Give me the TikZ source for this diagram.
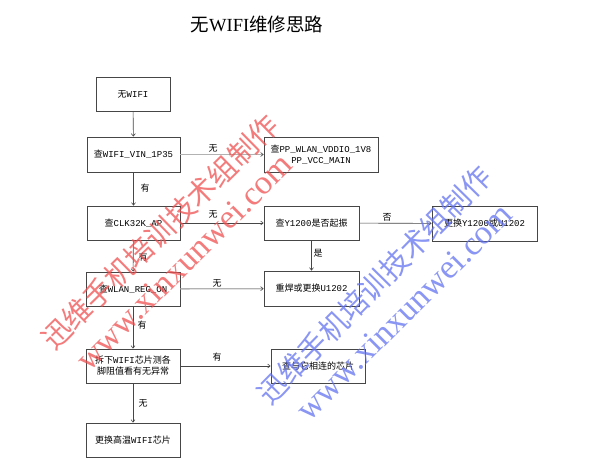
\documentclass[tikz,border=0pt]{standalone}
\usepackage{fontspec}
\setmainfont{Liberation Mono}
\newfontfamily\zh{Noto Sans CJK SC}
\newfontfamily\wmser{Liberation Serif}
\usetikzlibrary{arrows.meta}
\definecolor{wmred}{RGB}{240,80,80}
\definecolor{wmblue}{RGB}{100,115,240}
\definecolor{frame}{RGB}{70,70,70}
\begin{document}
\begin{tikzpicture}[x=1pt,y=-1pt,
  box/.style={draw=frame,line width=0.8pt,minimum width=#1,inner sep=0pt,align=center,font=\fontsize{9}{11}\selectfont},
  box/.default=94pt,
  arr/.style={draw=frame,line width=0.6pt,-{Straight Barb[length=2.5pt,width=4pt]}},
  garr/.style={draw=gray!60,line width=1.3pt,-{Straight Barb[length=2.5pt,width=4pt,color=frame,line width=0.6pt]}},
  lab/.style={font=\zh\fontsize{9}{11}\selectfont,inner sep=0pt},
  wmz/.style={font=\zh\fontsize{29}{30}\selectfont,inner sep=0pt,opacity=0.75},
  wmw/.style={font=\wmser\fontsize{34}{36}\selectfont,inner sep=0pt,opacity=0.75}]
\useasboundingbox (0,0) rectangle (596,472);
\fill[white] (0,0) rectangle (596,472);
\node[inner sep=0pt,font=\fontsize{18.5}{20}\selectfont] (title) at (257,24) {{\zh 无}{\wmser WIFI}{\zh 维修思路}};
\node[box=74pt,minimum height=34pt] (n1) at (133,94) {{\zh 无}WIFI};
\node[box=93pt,minimum height=35pt] (n2) at (133.5,154.5) {{\zh 查}WIFI\_VIN\_1P35};
\node[box=114pt,minimum height=35pt] (n3) at (321,154.5) {{\zh 查}PP\_WLAN\_VDDIO\_1V8\\PP\_VCC\_MAIN};
\node[box=93pt,minimum height=34pt] (n4) at (133.5,223) {{\zh 查}CLK32K\_AP};
\node[box=95pt,minimum height=34pt] (n5) at (311.5,223) {{\zh 查}Y1200{\zh 是否起振}};
\node[box=105pt,minimum height=35pt] (n6) at (484.5,223.5) {{\zh 更换}Y1200{\zh 或}U1202};
\node[box=94pt,minimum height=34pt] (n7) at (133,289) {{\zh 查}WLAN\_REG\_ON};
\node[box=95pt,minimum height=35pt] (n8) at (311.5,288.5) {{\zh 重焊或更换}U1202};
\node[box=94pt,minimum height=34pt] (n9) at (133,366) {{\zh 拆下}WIFI{\zh 芯片测各}\\{\zh 脚阻值看有无异常}};
\node[box=94pt,minimum height=34pt] (n10) at (318,366) {{\zh 查与它相连的芯片}};
\node[box=94pt,minimum height=34pt] (n11) at (133,440) {{\zh 更换高温}WIFI{\zh 芯片}};
\draw[arr] (n1) -- (n2);
\draw[garr] (n2) -- (n3);
\draw[arr] (n2) -- (n4);
\draw[arr] (n4) -- (n5);
\draw[arr] (n5) -- (n6);
\draw[arr] (n4) -- (n7);
\draw[arr] (n5) -- (n8);
\draw[garr] (n7) -- (n8);
\draw[arr] (n7) -- (n9);
\draw[arr] (n9) -- (n10);
\draw[arr] (n9) -- (n11);
\node[lab] (l1) at (213,148) {无};
\node[lab] (l2) at (145,188) {有};
\node[lab] (l3) at (213,214) {无};
\node[lab] (l4) at (143,257) {有};
\node[lab] (l5) at (217,283) {无};
\node[lab] (l6) at (142,325) {有};
\node[lab] (l7) at (217,357) {有};
\node[lab] (l8) at (143,403) {无};
\node[lab] (l9) at (387,217) {否};
\node[lab] (l10) at (318,253) {是};
\node[wmz,text=wmred,rotate=44.5] (w1) at (160,232) {迅维手机培训技术组制作};
\node[wmw,text=wmred,rotate=45] (w2) at (184,262) {www.xinxunwei.com};
\node[wmz,text=wmblue,rotate=45.5] (w3) at (374,285) {迅维手机培训技术组制作};
\node[wmw,text=wmblue,rotate=45] (w4) at (404,312) {www.xinxunwei.com};
\end{tikzpicture}
\end{document}
